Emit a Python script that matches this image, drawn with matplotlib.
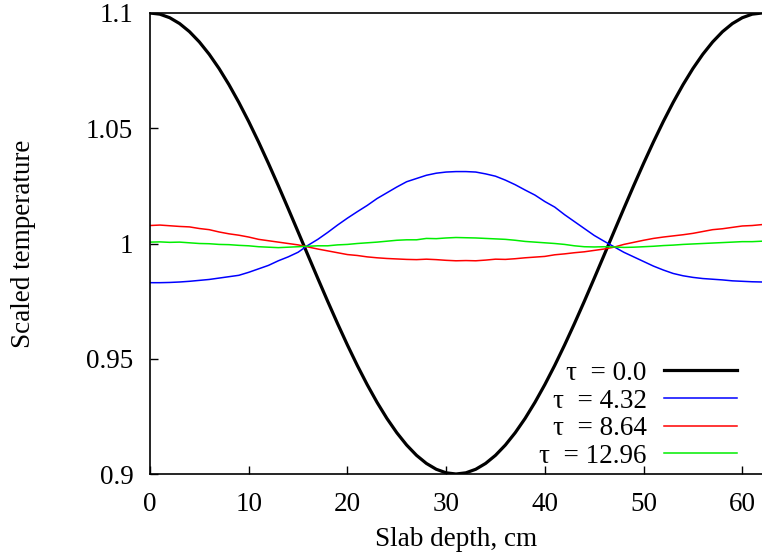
import numpy as np
import matplotlib
matplotlib.use("Agg")
import matplotlib.pyplot as plt

# slab depth, cm (one sample per cm)
depth = list(range(0, 63))

# tau = 0.0 : initial profile
temp_t0 = [1.10000, 1.09949, 1.09795, 1.09541, 1.09190, 1.08744, 1.08208, 1.07589,
           1.06890, 1.06121, 1.05290, 1.04404, 1.03473, 1.02507, 1.01514, 1.00507,
           0.99493, 0.98486, 0.97493, 0.96527, 0.95596, 0.94710, 0.93879, 0.93110,
           0.92411, 0.91792, 0.91256, 0.90810, 0.90459, 0.90205, 0.90051, 0.90000,
           0.90051, 0.90205, 0.90459, 0.90810, 0.91256, 0.91792, 0.92411, 0.93110,
           0.93879, 0.94710, 0.95596, 0.96527, 0.97493, 0.98486, 0.99493, 1.00507,
           1.01514, 1.02507, 1.03473, 1.04404, 1.05290, 1.06121, 1.06890, 1.07589,
           1.08208, 1.08744, 1.09190, 1.09541, 1.09795, 1.09949, 1.10000]

# tau = 4.32
temp_t1 = [0.9830, 0.9830, 0.9831, 0.9833, 0.9836, 0.9840, 0.9844, 0.9850,
           0.9856, 0.9862, 0.9875, 0.9890, 0.9905, 0.9925, 0.9942, 0.9962,
           0.9992, 1.0018, 1.0048, 1.0080, 1.0110, 1.0138, 1.0165, 1.0195,
           1.0220, 1.0245, 1.0268, 1.0282, 1.0296, 1.0305, 1.0310, 1.0312,
           1.0312, 1.0310, 1.0302, 1.0292, 1.0275, 1.0255, 1.0232, 1.0210,
           1.0182, 1.0158, 1.0125, 1.0095, 1.0065, 1.0035, 1.0010, 0.9986,
           0.9962, 0.9942, 0.9922, 0.9902, 0.9885, 0.9870, 0.9860, 0.9853,
           0.9848, 0.9845, 0.9842, 0.9838, 0.9836, 0.9834, 0.9833]

# tau = 8.64
temp_t2 = [1.0078, 1.0080, 1.0077, 1.0074, 1.0072, 1.0065, 1.0060, 1.0050,
           1.0042, 1.0036, 1.0028, 1.0018, 1.0012, 1.0006, 1.0000, 0.9994,
           0.9985, 0.9976, 0.9968, 0.9960, 0.9952, 0.9948, 0.9942, 0.9938,
           0.9935, 0.9933, 0.9931, 0.9930, 0.9932, 0.9930, 0.9927, 0.9925,
           0.9926, 0.9925, 0.9928, 0.9932, 0.9931, 0.9934, 0.9938, 0.9941,
           0.9944, 0.9951, 0.9955, 0.9960, 0.9964, 0.9970, 0.9976, 0.9984,
           0.9996, 1.0005, 1.0014, 1.0022, 1.0028, 1.0033, 1.0038, 1.0044,
           1.0052, 1.0060, 1.0064, 1.0070, 1.0076, 1.0078, 1.0082]

# tau = 12.96
temp_t3 = [1.0006, 1.0007, 1.0005, 1.0006, 1.0003, 1.0000, 0.9999, 0.9996,
           0.9995, 0.9992, 0.9990, 0.9986, 0.9984, 0.9982, 0.9984, 0.9986,
           0.9988, 0.9990, 0.9990, 0.9994, 0.9996, 1.0000, 1.0003, 1.0006,
           1.0010, 1.0014, 1.0016, 1.0016, 1.0022, 1.0021, 1.0024, 1.0026,
           1.0025, 1.0024, 1.0022, 1.0020, 1.0018, 1.0014, 1.0009, 1.0006,
           1.0003, 1.0000, 0.9996, 0.9990, 0.9986, 0.9985, 0.9986, 0.9985,
           0.9983, 0.9984, 0.9986, 0.9988, 0.9991, 0.9993, 0.9996, 0.9998,
           1.0000, 1.0002, 1.0004, 1.0006, 1.0008, 1.0008, 1.0010]

labels = ["τ  = 0.0", "τ  = 4.32", "τ  = 8.64", "τ  = 12.96"]
colors = ["black", "#0000ff", "#ff0000", "#00ee00"]
widths = [2.3, 1.1, 1.1, 1.1]

xticks = [0, 10, 20, 30, 40, 50, 60]
yticks = [0.9, 0.95, 1.0, 1.05, 1.1]
ytick_labels = ["0.9", "0.95", "1", "1.05", "1.1"]

plt.rcParams["font.family"] = ["Liberation Serif", "DejaVu Serif"]
plt.rcParams["font.size"] = 19.5

fig = plt.figure(figsize=(7.62, 5.6), dpi=100)
ax = fig.add_axes([150 / 762, 1 - 474 / 560, 612 / 762, 461 / 560])

series = [temp_t0, temp_t1, temp_t2, temp_t3]
for ys, lab, c, w in zip(series, labels, colors, widths):
    ax.plot(depth, ys, color=c, lw=w, label=lab)

ax.set_xlim(0, 62)
ax.set_ylim(0.9, 1.1)
ax.set_xticks(xticks)
ax.set_yticks(yticks)
ax.set_yticklabels(ytick_labels)
ax.tick_params(direction="in", length=6, width=1)
ax.tick_params(axis="y", pad=12)
ax.tick_params(axis="x", pad=13)
ax.spines["right"].set_visible(False)
for s in ["left", "bottom", "top"]:
    ax.spines[s].set_linewidth(1.2)

ax.set_xlabel("Slab depth, cm", labelpad=7)
ax.set_ylabel("Scaled temperature", labelpad=36)

leg = ax.legend(loc="lower right", bbox_to_anchor=(0.959, 0.011),
                frameon=False, markerfirst=False, borderpad=0,
                borderaxespad=0, handlelength=2.7, handletextpad=0.63,
                labelspacing=0.1)

fig.savefig("out.png", dpi=100)
